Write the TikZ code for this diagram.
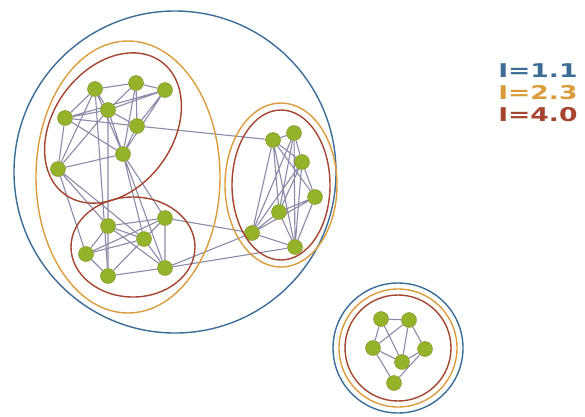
\documentclass[tikz,border=0pt]{standalone}
\usepackage{fontspec}
\setsansfont{DejaVu Sans}
\usetikzlibrary{backgrounds}
\definecolor{lvlone}{HTML}{3B6D98}
\definecolor{lvltwo}{HTML}{DB9C3C}
\definecolor{lvlthree}{HTML}{A5442F}
\definecolor{vert}{HTML}{94B32A}
\definecolor{edgec}{HTML}{8A8BA8}
\tikzset{
  v/.style={circle,fill=vert,draw=vert!80!black,line width=0.4pt,minimum size=15pt,inner sep=0pt},
  e/.style={draw=edgec,line width=1.1pt},
  ringone/.style={draw=lvlone,line width=1.4pt},
  ringtwo/.style={draw=lvltwo,line width=1.4pt},
  ringthree/.style={draw=lvlthree,line width=1.4pt},
  lbl/.style={anchor=base west,inner sep=0pt,text height=14pt,text depth=0pt,xscale=1.4,
    font=\sffamily\bfseries\fontsize{19}{22}\selectfont},
}
\begin{document}
\begin{tikzpicture}[x=1pt,y=-1pt]
  \useasboundingbox (0,0) rectangle (585,416);
  % left upper community
  \node[v] (a1) at (95,89) {}; \node[v] (a2) at (136,83) {}; \node[v] (a3) at (165,90) {};
  \node[v] (a4) at (65,118) {}; \node[v] (a5) at (108,110) {}; \node[v] (a6) at (137,126) {};
  \node[v] (a7) at (123,154) {}; \node[v] (a8) at (58,169) {};
  % left lower community
  \node[v] (b1) at (108,226) {}; \node[v] (b2) at (165,218) {}; \node[v] (b3) at (144,239) {};
  \node[v] (b4) at (86,254) {}; \node[v] (b5) at (165,268) {}; \node[v] (b6) at (108,276) {};
  % right community
  \node[v] (c1) at (273,140) {}; \node[v] (c2) at (294,133) {}; \node[v] (c3) at (302,162) {};
  \node[v] (c4) at (315,197) {}; \node[v] (c5) at (279,212) {}; \node[v] (c6) at (252,233) {};
  \node[v] (c7) at (295,247) {};
  % small component
  \node[v] (d1) at (381,319) {}; \node[v] (d2) at (409,320) {}; \node[v] (d3) at (373,348) {};
  \node[v] (d4) at (425,349) {}; \node[v] (d5) at (402,362) {}; \node[v] (d6) at (394,383) {};
  \begin{scope}[on background layer]
    \draw[e] (a1)--(a2) (a2)--(a3) (a1)--(a4) (a1)--(a5) (a2)--(a5) (a3)--(a5) (a4)--(a5)
             (a5)--(a6) (a2)--(a6) (a3)--(a6) (a3)--(a7) (a4)--(a6) (a4)--(a7) (a1)--(a7)
             (a5)--(a7) (a6)--(a7) (a4)--(a8) (a1)--(a8) (a5)--(a8) (a8)--(a7) (a2)--(a7) (a4)--(a3);
    \draw[e] (a8)--(b4) (a8)--(b1) (a5)--(b1) (a1)--(b6) (a7)--(b3) (a7)--(b2) (a7)--(b5) (a8)--(b3);
    \draw[e] (b1)--(b2) (b1)--(b3) (b1)--(b4) (b1)--(b6) (b2)--(b3) (b2)--(b5) (b2)--(b4)
             (b3)--(b4) (b3)--(b5) (b3)--(b6) (b4)--(b6) (b6)--(b5) (b1)--(b5);
    \draw[e] (a6)--(c1) (b2)--(c6) (b5)--(c7) (b5)--(c6);
    \draw[e] (c1)--(c2) (c1)--(c3) (c1)--(c4) (c1)--(c6) (c1)--(c7) (c1)--(c5) (c2)--(c3)
             (c2)--(c6) (c2)--(c5) (c3)--(c6) (c3)--(c5) (c3)--(c7) (c3)--(c4) (c4)--(c5)
             (c4)--(c7) (c4)--(c6) (c5)--(c6) (c5)--(c7) (c6)--(c7) (c2)--(c7);
    \draw[e] (d1)--(d2) (d1)--(d3) (d1)--(d5) (d2)--(d3) (d2)--(d5) (d2)--(d4) (d3)--(d5)
             (d4)--(d5) (d3)--(d6) (d4)--(d6);
  \end{scope}
  % community rings
  \draw[ringone] (175,172) circle [radius=161pt];
  \draw[ringtwo] (128,177) ellipse [x radius=92pt, y radius=136pt];
  \draw[ringthree, rotate around={54:(113,128)}] (113,128) ellipse [x radius=82pt, y radius=60pt];
  \draw[ringthree] (133,247) ellipse [x radius=62pt, y radius=50pt];
  \draw[ringtwo] (281,185) ellipse [x radius=56pt, y radius=82pt];
  \draw[ringthree] (281,185) ellipse [x radius=49pt, y radius=75pt];
  \draw[ringone] (398,348) circle [radius=65pt];
  \draw[ringtwo] (398,348) circle [radius=59pt];
  \draw[ringthree] (398,348) circle [radius=53pt];
  % legend
  \node[lbl,text=lvlone] (l1) at (498,77) {I=1.1};
  \node[lbl,text=lvltwo] (l2) at (498,99) {I=2.3};
  \node[lbl,text=lvlthree] (l3) at (498,121) {I=4.0};
\end{tikzpicture}
\end{document}
